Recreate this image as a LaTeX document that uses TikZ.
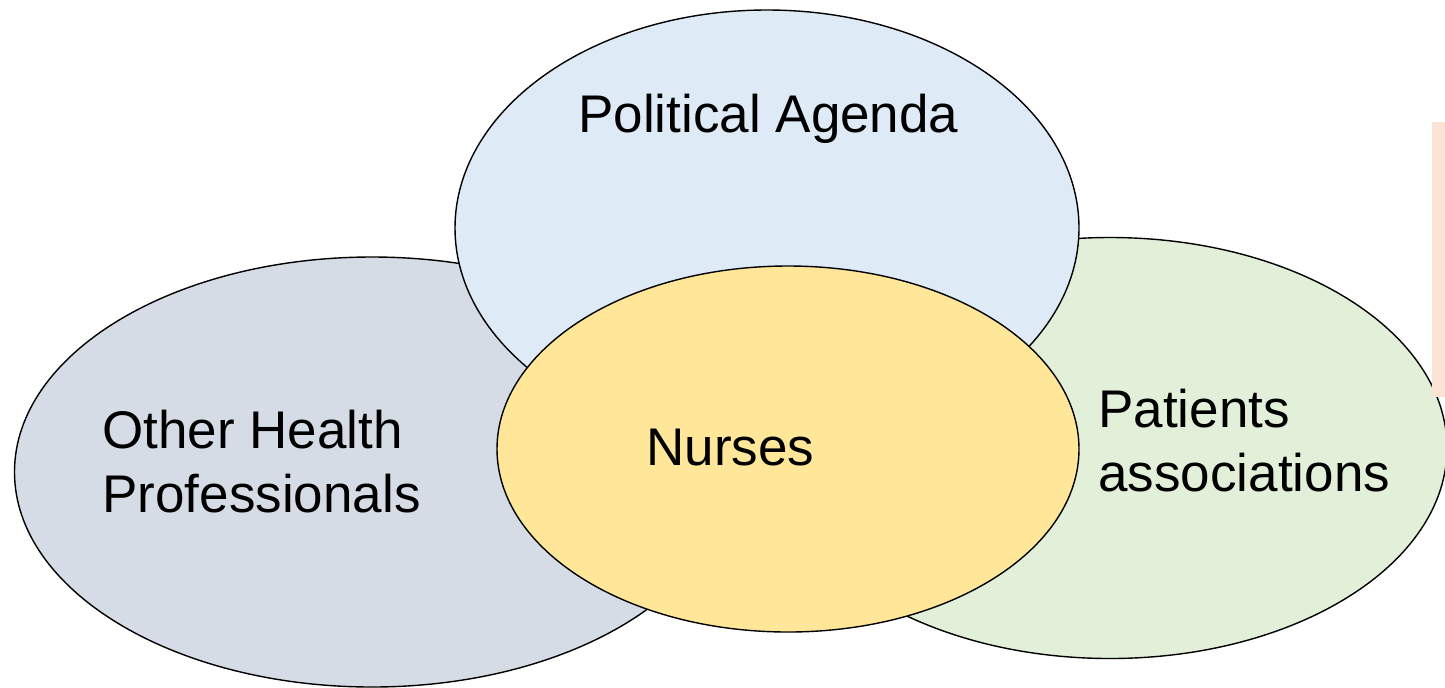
\documentclass[tikz,border=0pt]{standalone}
\usepackage{fontspec}
\setmainfont{Liberation Sans}
\usetikzlibrary{shapes.geometric}
\definecolor{greyblue}{HTML}{D6DCE5}
\definecolor{paleblue}{HTML}{DEEBF7}
\definecolor{palegreen}{HTML}{E2F0D9}
\definecolor{paleyellow}{HTML}{FFE699}
\definecolor{paleorange}{HTML}{FBE3D6}
\tikzset{
  group/.style={ellipse, draw=black, line width=0.7pt, inner sep=0pt, outer sep=0pt},
  grouplabel/.style={inner sep=0pt, align=left, font=\fontsize{26.5}{32}\selectfont}
}
\begin{document}
\begin{tikzpicture}[x=0.5pt,y=-0.5pt]
\useasboundingbox (0,0) rectangle (1445,687);
\node [group, fill=greyblue, minimum width=357.5pt, minimum height=215pt] (others) at (372,472) {};
\node [group, fill=palegreen, minimum width=337pt, minimum height=210.5pt] (patients) at (1110,448) {};
\node [group, fill=paleblue, minimum width=312pt, minimum height=218pt] (politics) at (767,228) {};
\node [group, fill=paleyellow, minimum width=291pt, minimum height=183pt] (nurses) at (788,449) {};
\fill [paleorange] (1432,122) rectangle (1445,397);
\node [grouplabel, anchor=base west] (politicslabel) at (578,132) {Political Agenda};
\node [grouplabel, anchor=north west] (otherslabel) at (102,410) {Other Health\\Professionals};
\node [grouplabel, anchor=base west] (nurseslabel) at (646,465) {Nurses};
\node [grouplabel, anchor=north west] (patientslabel) at (1098,389) {Patients\\associations};
\end{tikzpicture}
\end{document}
